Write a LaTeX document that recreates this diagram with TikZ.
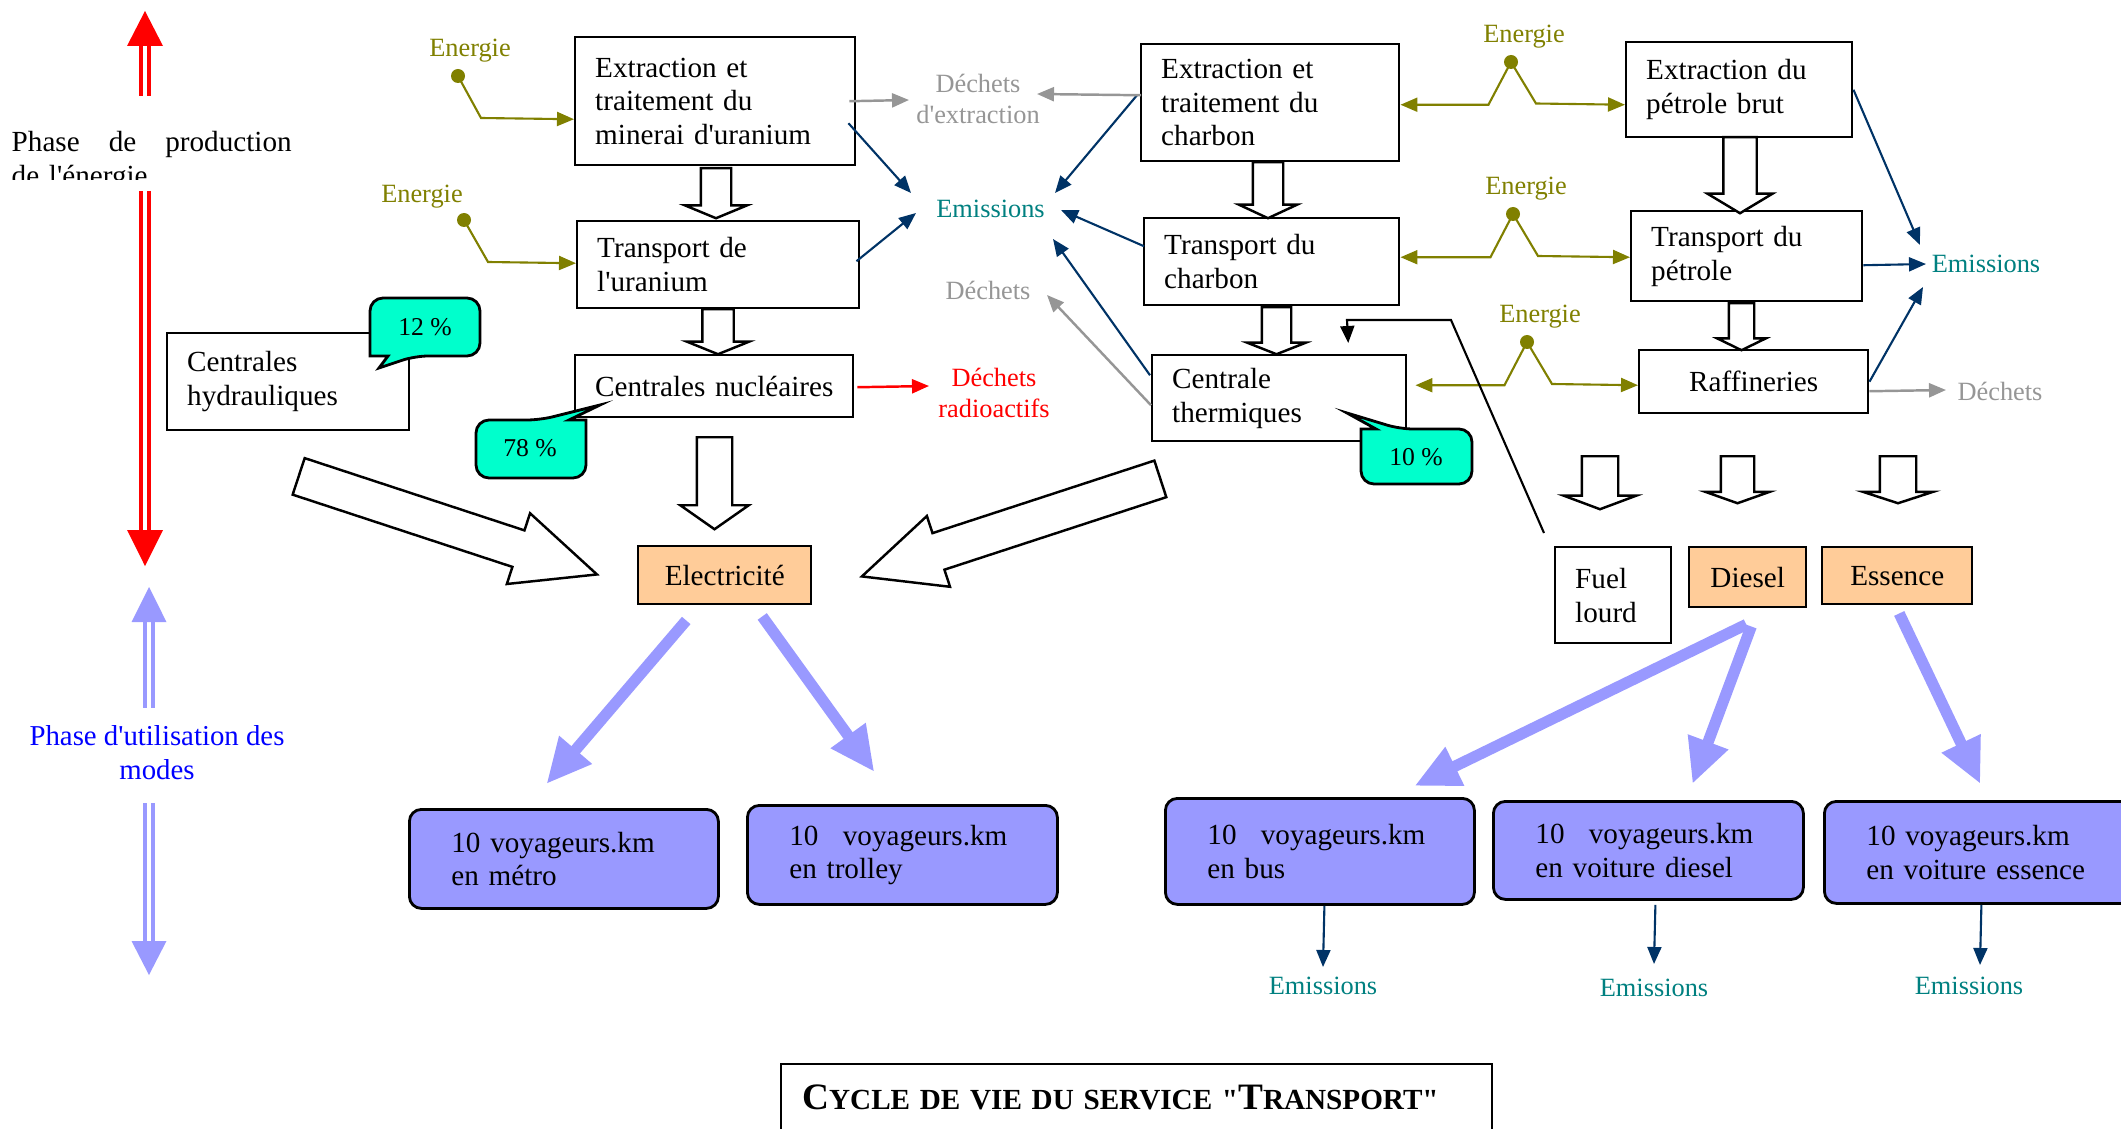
\documentclass[tikz,border=0pt]{standalone}
\usepackage{fontspec}
\setmainfont{Liberation Serif}[Ligatures=TeXOff]
\usetikzlibrary{arrows.meta,shapes.arrows}
\hyphenpenalty=10000
\exhyphenpenalty=10000

\definecolor{vertolive}{RGB}{128,128,0}
\definecolor{sarcelle}{RGB}{0,128,128}
\definecolor{marine}{RGB}{0,51,102}
\definecolor{peche}{RGB}{255,204,153}
\definecolor{lavande}{RGB}{153,153,255}
\definecolor{turquoise}{RGB}{0,255,204}
\definecolor{grisd}{RGB}{150,150,150}

\tikzset{
  etape/.style={draw, line width=0.7pt, anchor=north west, align=left, inner xsep=0.2cm, inner ysep=0pt, font=\fontsize{8.3}{9.6}\selectfont},
  produit/.style={draw, line width=0.7pt, anchor=north west, fill=peche, inner sep=0pt, font=\fontsize{8.3}{9.6}\selectfont},
  service/.style={draw, line width=0.8pt, rounded corners=0.12cm, fill=lavande, anchor=north west, align=left, inner xsep=0.42cm, inner ysep=0pt, font=\fontsize{8.3}{9.6}\selectfont},
  texte/.style={inner sep=0pt, align=center, font=\fontsize{7.5}{9}\selectfont},
  bulle/.style={draw, line width=0.8pt, fill=turquoise},
  pastille/.style={circle, fill=vertolive, inner sep=0pt, minimum size=0.14cm},
  energie/.style={vertolive, line width=0.6pt, ->},
  emis/.style={marine, line width=0.6pt, ->},
  dechet/.style={grisd, line width=0.7pt, ->},
  fleche/.style={lavande, line width=3.2pt, -{Triangle[length=0.45cm, width=0.40cm]}},
  bloc/.style={single arrow, draw, fill=white, line width=0.7pt, inner xsep=0pt, anchor=tail, single arrow head indent=0pt},
  phase/.style={line width=1.3pt, double=white, double distance=0.9pt}
}

\begin{document}
\begin{tikzpicture}[x=1cm, y=-1cm, >={Triangle[length=1.7mm, width=1.4mm]}]
%\draw [help lines] (0,0) grid (21,11);
\useasboundingbox (0,0) rectangle (21.21,11.29);
\clip (0,0) rectangle (21.21,11.29);

\draw [red, phase] (1.45,0.46) -- (1.45,0.96);
\draw [red, phase] (1.45,1.91) -- (1.45,5.30);
\fill [red] (1.45,0.11) -- (1.63,0.46) -- (1.27,0.46) -- cycle;
\fill [red] (1.45,5.66) -- (1.63,5.30) -- (1.27,5.30) -- cycle;

\draw [lavande, phase] (1.49,6.22) -- (1.49,7.08);
\draw [lavande, phase] (1.49,8.03) -- (1.49,9.41);
\fill [lavande] (1.49,5.87) -- (1.665,6.22) -- (1.315,6.22) -- cycle;
\fill [lavande] (1.49,9.75) -- (1.665,9.41) -- (1.315,9.41) -- cycle;

\begin{scope}
\clip (0,0.9) rectangle (3.2,1.80);
\node [anchor=north west, align=left, inner sep=0pt, text width=2.80cm, font=\fontsize{8.3}{9.6}\selectfont] (prod) at (0.11,1.31) {\makebox[2.80cm][l]{Phase\hfill de\hfill production}\\de l'énergie};
\end{scope}
\node [align=center, inner sep=0pt, text=blue, font=\fontsize{8.2}{9.6}\selectfont] (util) at (1.57,7.53) {Phase d'utilisation des\\modes};

\node [etape, text width=2.40cm, minimum height=1.28cm] (uext) at (5.74,0.36) {Extraction et\\traitement du\\minerai d'uranium};
\node [etape, text width=2.42cm, minimum height=0.87cm] (utra) at (5.76,2.20) {Transport de\\l'uranium};
\node [etape, text width=2.38cm, minimum height=0.62cm] (ucen) at (5.74,3.54) {\mbox{Centrales nucléaires}};
\node [etape, text width=2.02cm, minimum height=0.97cm] (hydro) at (1.66,3.32) {Centrales\\hydrauliques};
\node [etape, text width=2.18cm, minimum height=1.17cm] (cext) at (11.40,0.43) {Extraction et\\traitement du\\charbon};
\node [etape, text width=2.15cm, minimum height=0.87cm] (ctra) at (11.43,2.17) {Transport du\\charbon};
\node [etape, text width=2.14cm, minimum height=0.86cm] (ccen) at (11.51,3.54) {Centrale\\thermiques};
\node [etape, text width=1.86cm, minimum height=0.95cm] (pext) at (16.25,0.41) {Extraction du\\pétrole brut};
\node [etape, text width=1.91cm, minimum height=0.90cm] (ptra) at (16.30,2.10) {Transport du\\pétrole};
\node [etape, align=center, text width=1.89cm, minimum height=0.63cm] (raff) at (16.38,3.49) {Raffineries};
\node [etape, text width=0.76cm, minimum height=0.96cm] (fuel) at (15.54,5.46) {Fuel\\lourd};
\node [produit, minimum width=1.17cm, minimum height=0.60cm] (diesel) at (16.88,5.46) {Diesel};
\node [produit, minimum width=1.50cm, minimum height=0.57cm] (essence) at (18.21,5.46) {Essence};
\node [produit, minimum width=1.73cm, minimum height=0.58cm] (elec) at (6.37,5.45) {Electricité};

\node [service, text width=2.25cm, minimum height=0.99cm] (metro) at (4.08,8.08) {10~voyageurs.km\\en métro};
\node [service, text width=2.26cm, minimum height=0.99cm] (trolley) at (7.46,8.04) {10\enspace~voyageurs.km\\en trolley};
\node [service, text width=2.25cm, minimum height=1.06cm] (bus) at (11.64,7.97) {10\enspace~voyageurs.km\\en bus};
\node [service, text width=2.26cm, minimum height=0.98cm] (vdiesel) at (14.92,8.00) {10\enspace~voyageurs.km\\en voiture diesel};
\node [service, text width=2.56cm, minimum height=1.02cm] (vessence) at (18.23,8.00) {10~voyageurs.km\\en voiture essence};

\node [bloc, rotate=-90, inner ysep=0.14cm, single arrow head extend=0.16cm, single arrow tip angle=135, minimum height=0.50cm] (fb1) at (7.16,1.67) {};
\node [bloc, rotate=-90, inner ysep=0.145cm, single arrow head extend=0.155cm, single arrow tip angle=136, minimum height=0.45cm] (fb2) at (7.18,3.08) {};
\node [bloc, rotate=-90, inner ysep=0.165cm, single arrow head extend=0.165cm, single arrow tip angle=110, minimum height=0.92cm] (fb3) at (7.145,4.36) {};
\node [bloc, rotate=-90, inner ysep=0.14cm, single arrow head extend=0.14cm, single arrow tip angle=130, minimum height=0.56cm] (fb4) at (12.68,1.61) {};
\node [bloc, rotate=-90, inner ysep=0.135cm, single arrow head extend=0.145cm, single arrow tip angle=137, minimum height=0.47cm] (fb5) at (12.765,3.06) {};
\node [bloc, rotate=-90, inner ysep=0.155cm, single arrow head extend=0.16cm, single arrow tip angle=118, minimum height=0.76cm] (fb6) at (17.40,1.36) {};
\node [bloc, rotate=-90, inner ysep=0.115cm, single arrow head extend=0.115cm, single arrow tip angle=128, minimum height=0.47cm] (fb7) at (17.415,3.02) {};
\node [bloc, rotate=-90, inner ysep=0.17cm, single arrow head extend=0.18cm, single arrow tip angle=139, minimum height=0.53cm] (fb8) at (16.00,4.55) {};
\node [bloc, rotate=-90, inner ysep=0.155cm, single arrow head extend=0.155cm, single arrow tip angle=141, minimum height=0.47cm] (fb9) at (17.375,4.55) {};
\node [bloc, rotate=-90, inner ysep=0.17cm, single arrow head extend=0.17cm, single arrow tip angle=144, minimum height=0.47cm] (fb10) at (18.98,4.55) {};
\node [bloc, rotate=-18.2, inner ysep=0.18cm, single arrow head extend=0.18cm, single arrow tip angle=48.5, minimum height=3.14cm] (fh) at (2.975,4.76) {};
\node [bloc, rotate=198.1, inner ysep=0.18cm, single arrow head extend=0.18cm, single arrow tip angle=49.6, minimum height=3.14cm] (ft) at (11.615,4.785) {};

\draw [bulle] (3.70,3.27) [rounded corners=0.13cm] -- (3.70,2.98) -- (4.80,2.98) -- (4.80,3.56) -- (4.15,3.56) [sharp corners] -- (3.79,3.68) -- (3.88,3.56) -- (3.70,3.56) [rounded corners=0.13cm] -- cycle;
\draw [bulle] (4.76,4.49) [rounded corners=0.13cm] -- (4.76,4.20) -- (5.40,4.20) [sharp corners] -- (6.00,4.05) -- (5.69,4.20) -- (5.86,4.20) [rounded corners=0.13cm] -- (5.86,4.78) -- (4.76,4.78) -- cycle;
\draw [bulle] (14.72,4.56) [rounded corners=0.13cm] -- (14.72,4.29) -- (14.00,4.29) [sharp corners] -- (13.47,4.13) -- (13.76,4.29) -- (13.61,4.29) [rounded corners=0.13cm] -- (13.61,4.84) -- (14.72,4.84) -- cycle;
\node [texte, font=\fontsize{7.3}{9}\selectfont] (p12) at (4.25,3.27) {12 \%};
\node [texte, font=\fontsize{7.3}{9}\selectfont] (p78) at (5.30,4.48) {78 \%};
\node [texte, font=\fontsize{7.3}{9}\selectfont] (p10) at (14.16,4.57) {10 \%};

\node [texte, text=sarcelle] (em1) at (9.905,2.09) {Emissions};
\node [texte, text=sarcelle] (em2) at (19.86,2.64) {Emissions};
\node [texte, text=sarcelle] (em3) at (13.23,9.86) {Emissions};
\node [texte, text=sarcelle] (em4) at (16.54,9.88) {Emissions};
\node [texte, text=sarcelle] (em5) at (19.69,9.86) {Emissions};
\node [texte, text=grisd] (dext) at (9.78,0.99) {Déchets\\d'extraction};
\node [texte, text=grisd] (dech) at (9.88,2.90) {Déchets};
\node [texte, text=grisd] (dech2) at (20.00,3.91) {Déchets};
\node [texte, text=red] (drad) at (9.94,3.93) {Déchets\\radioactifs};

\node [texte, text=vertolive] (en1) at (4.70,0.51) {Energie};
\node [texte, text=vertolive] (en2) at (4.22,1.97) {Energie};
\node [texte, text=vertolive] (en3) at (15.24,0.37) {Energie};
\node [texte, text=vertolive] (en4) at (15.26,1.89) {Energie};
\node [texte, text=vertolive] (en5) at (15.40,3.17) {Energie};
\node [pastille] (pt1) at (4.58,0.76) {};
\node [pastille] (pt2) at (4.64,2.20) {};
\node [pastille] (pt3) at (15.11,0.62) {};
\node [pastille] (pt4) at (15.13,2.14) {};
\node [pastille] (pt5) at (15.27,3.42) {};

\draw [energie] (pt1.center) -- ++(0.23,0.42) -- ([shift={(0,0.18)}]uext.west);
\draw [energie] (pt2.center) -- ++(0.24,0.42) -- ([shift={(0,-0.015)}]utra.west);
\draw [energie, <->] ([shift={(0,0.02)}]cext.east) -- ++(0.88,0) -- (pt3.center) -- ++(0.25,0.415) -- ([shift={(0,0.15)}]pext.west);
\draw [energie, <->] ([shift={(0,-0.045)}]ctra.east) -- ++(0.90,0) -- (pt4.center) -- ++(0.25,0.42) -- ([shift={(0,0.01)}]ptra.west);
\draw [energie, <->] ([shift={(0.08,-0.13)}]ccen.east) -- ++(0.89,0) -- (pt5.center) -- ++(0.25,0.42) -- ([shift={(0,0.035)}]raff.west);

\draw [emis] ([shift={(-0.08,0.22)}]uext.east) -- ([shift={(-0.795,-0.16)}]em1.center);
\draw [emis] ([shift={(-0.04,-0.035)}]utra.east) -- ([shift={(-0.745,0.04)}]em1.center);
\draw [emis] ([shift={(-0.03,-0.075)}]cext.west) -- ([shift={(0.645,-0.16)}]em1.center);
\draw [emis] ([shift={(0.01,-0.155)}]ctra.west) -- ([shift={(0.705,0.01)}]em1.center);
\draw [emis] ([shift={(-0.01,-0.23)}]ccen.west) -- ([shift={(0.625,0.30)}]em1.center);
\draw [emis] (pext.east) -- ([shift={(-0.66,-0.19)}]em2.center);
\draw [emis] ([shift={(0,0.09)}]ptra.east) -- ([shift={(-0.60,0)}]em2.center);
\draw [emis] (raff.east) -- ([shift={(-0.63,0.23)}]em2.center);
\draw [emis] ([shift={(0.045,0)}]bus.south) -- ([shift={(0,-0.19)}]em3.center);
\draw [emis] ([shift={(0.07,0.04)}]vdiesel.south) -- ([shift={(0,-0.24)}]em4.center);
\draw [emis] ([shift={(-0.13,0)}]vessence.south) -- ([shift={(0.11,-0.21)}]em5.center);

\draw [dechet] ([shift={(-0.07,0)}]uext.east) -- ([shift={(-0.69,0.01)}]dext.center);
\draw [dechet] ([shift={(0.01,-0.075)}]cext.west) -- ([shift={(0.59,-0.05)}]dext.center);
\draw [dechet] ([shift={(0,0.07)}]ccen.west) -- ([shift={(0.59,0.05)}]dech.center);
\draw [dechet] ([shift={(0,0.095)}]raff.east) -- ([shift={(-0.54,-0.01)}]dech2.center);
\draw [red, line width=0.7pt, ->] ([shift={(0.03,0.01)}]ucen.east) -- ([shift={(-0.65,-0.07)}]drad.center);

\draw [line width=0.6pt, ->] ([shift={(-0.10,-0.13)}]fuel.north west) -- (14.51,3.20) -- (13.47,3.20) -- ([shift={(0.69,-0.11)}]ccen.north);

\draw [fleche] ([shift={(-0.385,0.15)}]elec.south) -- ([shift={(-0.175,-0.24)}]metro.north);
\draw [fleche] ([shift={(0.375,0.11)}]elec.south) -- ([shift={(-0.28,-0.32)}]trolley.north);
\draw [fleche] ([shift={(-0.015,0.16)}]diesel.south) -- ([shift={(0.945,-0.11)}]bus.north);
\draw [fleche] ([shift={(0.035,0.18)}]diesel.south) -- ([shift={(0.44,-0.16)}]vdiesel.north);
\draw [fleche] ([shift={(0.02,0.08)}]essence.south) -- ([shift={(-0.14,-0.16)}]vessence.north);

\node [draw, line width=0.7pt, anchor=north west, align=left, text width=6.69cm, inner xsep=0.21cm, inner ysep=0.19cm, text height=0.26cm, text depth=0.45cm, font=\bfseries\fontsize{8.3}{10}\selectfont] (titre) at (7.80,10.63) {{\fontsize{10.6}{10}\selectfont C}YCLE DE VIE DU SERVICE "{\fontsize{10.6}{10}\selectfont T}RANSPORT"};

\end{tikzpicture}
\end{document}
